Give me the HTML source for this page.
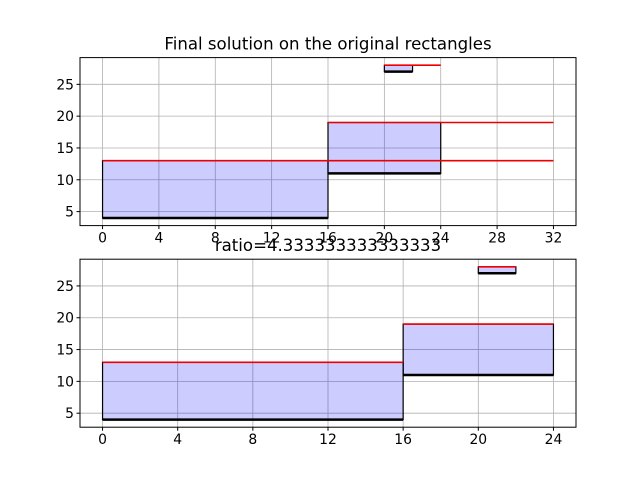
<!DOCTYPE html>
<html><head><meta charset="utf-8"><style>
body{margin:0;background:#fff;}
svg{display:block;font-family:"DejaVu Sans","Liberation Sans",sans-serif;}
</style></head><body>
<svg id="c" width="640" height="480"></svg>
<script>
const rectX0=[0,16,20], rectX1=[16,24,22], rectY0=[4,11,27], rectY1=[13,19,28];
const topRedStart=[0,16,20], topRedEnd=[32,32,24], topRedY=[13,19,28];
const topXTicks=[0,4,8,12,16,20,24,28,32], botXTicks=[0,4,8,12,16,20,24], yTicks=[5,10,15,20,25];
const NS="http://www.w3.org/2000/svg", svg=document.getElementById('c');
function mk(t,a,p){const e=document.createElementNS(NS,t);for(const k in a)e.setAttribute(k,a[k]);(p||svg).appendChild(e);return e;}
function axes(top,bot,xmin,xmax,xt,title,name,redS,redE,redY){
  const L=80,R=576,ymin=2.8,ymax=29.2;
  const g=mk('g',{});
  
  
  const X=v=>L+(v-xmin)/(xmax-xmin)*(R-L), Y=v=>bot-(v-ymin)/(ymax-ymin)*(bot-top);
  for(const v of xt){const l=mk('line',{x1:X(v),x2:X(v),y1:top,y2:bot,stroke:'#b0b0b0','stroke-width':0.8},g);
    
    mk('line',{x1:X(v),x2:X(v),y1:bot,y2:bot+3.5,stroke:'#000'},g);
    const t=mk('text',{x:X(v),y:bot+17,'text-anchor':'middle','font-size':13.9},g);t.textContent=v;
    }
  for(const v of yTicks){const l=mk('line',{x1:L,x2:R,y1:Y(v),y2:Y(v),stroke:'#b0b0b0','stroke-width':0.8},g);
    
    mk('line',{x1:L-3.5,x2:L,y1:Y(v),y2:Y(v),stroke:'#000'},g);
    const t=mk('text',{x:L-6,y:Y(v)+5,'text-anchor':'end','font-size':13.9},g);t.textContent=v;
    }
  for(let i=0;i<rectX0.length;i++){
    const r=mk('rect',{x:X(rectX0[i]),y:Y(rectY1[i]),width:X(rectX1[i])-X(rectX0[i]),height:Y(rectY0[i])-Y(rectY1[i]),fill:'#0000ff','fill-opacity':0.2,stroke:'#000','stroke-width':1.2},g);
    
    
    const b=mk('line',{x1:X(rectX0[i]),x2:X(rectX1[i]),y1:Y(rectY0[i]),y2:Y(rectY0[i]),stroke:'#000','stroke-width':2.5},g);
    
    
  }
  for(let i=0;i<redY.length;i++){const l=mk('line',{x1:X(redS[i]),x2:X(redE[i]),y1:Y(redY[i]),y2:Y(redY[i]),stroke:'#ee0000','stroke-width':1.6},g);
    }
  const f=mk('rect',{x:L,y:top,width:R-L,height:bot-top,fill:'none',stroke:'#000','stroke-width':1},g);
  
  const t=mk('text',{x:(L+R)/2,y:top-8,'text-anchor':'middle','font-size':16.6},g);t.textContent=title;
  
}
axes(57.6,225.6,-1.6,33.6,topXTicks,'Final solution on the original rectangles','top-axes',topRedStart,topRedEnd,topRedY);
axes(259.2,427.2,-1.2,25.2,botXTicks,'ratio=4.333333333333333','bottom-axes',rectX0,rectX1,rectY1);
</script>
</body></html>
